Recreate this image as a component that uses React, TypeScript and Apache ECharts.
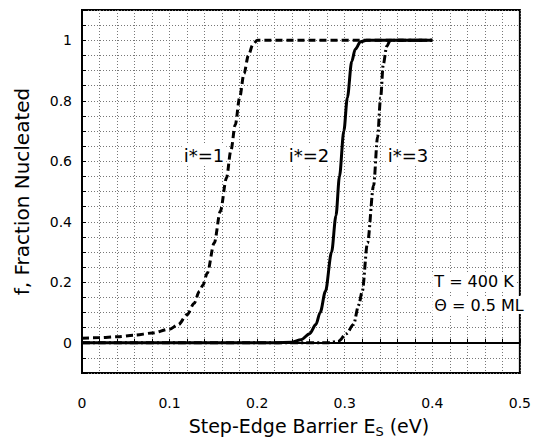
import React, { useEffect, useRef } from "react";
import * as echarts from "echarts";

const FONT = "'DejaVu Sans', 'Liberation Sans', sans-serif";

// i* = 1 (dashed)
const xI1 = [0, 0.02, 0.04, 0.06, 0.08, 0.1, 0.11, 0.12, 0.128, 0.134, 0.138, 0.143, 0.151, 0.158, 0.165, 0.17, 0.175, 0.18, 0.185, 0.19, 0.195, 0.2, 0.4];
const fI1 = [0.015, 0.017, 0.02, 0.025, 0.032, 0.045, 0.06, 0.093, 0.13, 0.17, 0.19, 0.23, 0.33, 0.435, 0.545, 0.635, 0.72, 0.81, 0.89, 0.95, 0.985, 1, 1];

// i* = 2 (solid)
const xI2 = [0, 0.22, 0.24, 0.25, 0.26, 0.267, 0.272, 0.278, 0.285, 0.29, 0.294, 0.299, 0.303, 0.308, 0.312, 0.318, 0.325, 0.4];
const fI2 = [0, 0, 0.002, 0.01, 0.03, 0.06, 0.1, 0.17, 0.3, 0.42, 0.55, 0.7, 0.81, 0.93, 0.97, 0.995, 1, 1];

// i* = 3 (dash-dot)
const xI3 = [0, 0.28, 0.293, 0.302, 0.31, 0.316, 0.32, 0.326, 0.333, 0.3375, 0.341, 0.344, 0.348, 0.352, 0.4];
const fI3 = [0, 0, 0.005, 0.03, 0.06, 0.125, 0.17, 0.33, 0.52, 0.68, 0.81, 0.92, 0.98, 1, 1];

const xTicks = [0, 0.1, 0.2, 0.3, 0.4, 0.5];
const yTicks = [0, 0.2, 0.4, 0.6, 0.8, 1];

const labels = [
  { text: "i*=1", x: 204, y: 155 },
  { text: "i*=2", x: 309, y: 155 },
  { text: "i*=3", x: 408, y: 155 },
];

const zip = (xs: number[], ys: number[]) => xs.map((x, i) => [x, ys[i]]);

const near = (v: number, list: number[]) => list.some((t) => Math.abs(v - t) < 1e-6);

export default function App() {
  const ref = useRef<HTMLDivElement>(null);
  useEffect(() => {
    document.body.style.margin = "0";
    if (!ref.current) return;
    const chart = echarts.init(ref.current, undefined, { renderer: "svg" });
    const splitLine = { show: true, lineStyle: { color: "#777", type: [1, 2] as any, width: 1 } };
    chart.setOption({
      animation: false,
      backgroundColor: "#fff",
      grid: { left: 82, right: 12, top: 10, bottom: 59, show: true, borderColor: "#000", borderWidth: 2, backgroundColor: "transparent" },
      xAxis: {
        type: "value",
        min: 0,
        max: 0.5,
        interval: 0.02,
        axisLine: { show: true, lineStyle: { color: "#000", width: 2 } },
        axisTick: { show: true, inside: true, length: 4, lineStyle: { color: "#000" } },
        splitLine,
        axisLabel: {
          color: "#000",
          fontSize: 14,
          fontFamily: FONT,
          margin: 23,
          formatter: (v: number) => (near(v, xTicks) ? String(Math.round(v * 10) / 10) : ""),
        },
        name: "{a|Step-Edge Barrier E}{s|S}{a| (eV)}",
        nameLocation: "middle",
        nameGap: 41,
        nameTextStyle: {
          padding: [0, 0, 0, 16],
          rich: {
            a: { fontSize: 19, fontFamily: FONT, color: "#000" },
            s: { fontSize: 13, fontFamily: FONT, color: "#000", padding: [11, 0, 0, 0] },
          },
        },
      },
      yAxis: {
        type: "value",
        min: -0.1,
        max: 1.1,
        interval: 0.05,
        axisLine: { show: true, lineStyle: { color: "#000", width: 2 } },
        axisTick: { show: true, inside: true, length: 4, lineStyle: { color: "#000" } },
        splitLine,
        axisLabel: {
          color: "#000",
          fontSize: 14,
          fontFamily: FONT,
          margin: 10,
          formatter: (v: number) => (near(v, yTicks) ? String(Math.round(v * 10) / 10) : ""),
        },
        name: "f, Fraction Nucleated",
        nameLocation: "middle",
        nameGap: 50,
        nameTextStyle: { fontSize: 20, fontFamily: FONT, color: "#000" },
      },
      series: [
        {
          type: "line",
          data: zip(xI1, fI1),
          showSymbol: false,
          smooth: 0.3,
          smoothMonotone: "x",
          lineStyle: { color: "#000", width: 3, type: [7, 4] as any },
          z: 2,
        },
        {
          type: "line",
          data: zip(xI3, fI3),
          showSymbol: false,
          smooth: 0.3,
          smoothMonotone: "x",
          lineStyle: { color: "#000", width: 3, type: [8, 3, 2, 3] as any },
          z: 3,
        },
        {
          type: "line",
          data: zip(xI2, fI2),
          showSymbol: false,
          smooth: 0.3,
          smoothMonotone: "x",
          lineStyle: { color: "#000", width: 3 },
          z: 4,
        },
      ],
      graphic: [
        ...labels.map((l) => ({
          type: "text",
          x: l.x,
          y: l.y,
          z: 100,
          style: {
            text: l.text,
            fontSize: 18,
            fontFamily: FONT,
            fill: "#000",
            align: "center",
            verticalAlign: "middle",
            backgroundColor: "#fff",
            padding: [1, 2, 1, 2],
          },
        })),
        {
          type: "text",
          x: 474,
          y: 281,
          z: 100,
          style: { text: "T = 400 K", fontSize: 16, fontFamily: FONT, fill: "#000", align: "center", verticalAlign: "middle", backgroundColor: "#fff", padding: [1, 2, 1, 2] },
        },
        {
          type: "text",
          x: 479,
          y: 305,
          z: 100,
          style: { text: "Θ = 0.5 ML", fontSize: 16, fontFamily: FONT, fill: "#000", align: "center", verticalAlign: "middle", backgroundColor: "#fff", padding: [1, 2, 1, 2] },
        },
      ],
    });
    return () => chart.dispose();
  }, []);
  return <div ref={ref} style={{ width: 534, height: 443 }} />;
}
